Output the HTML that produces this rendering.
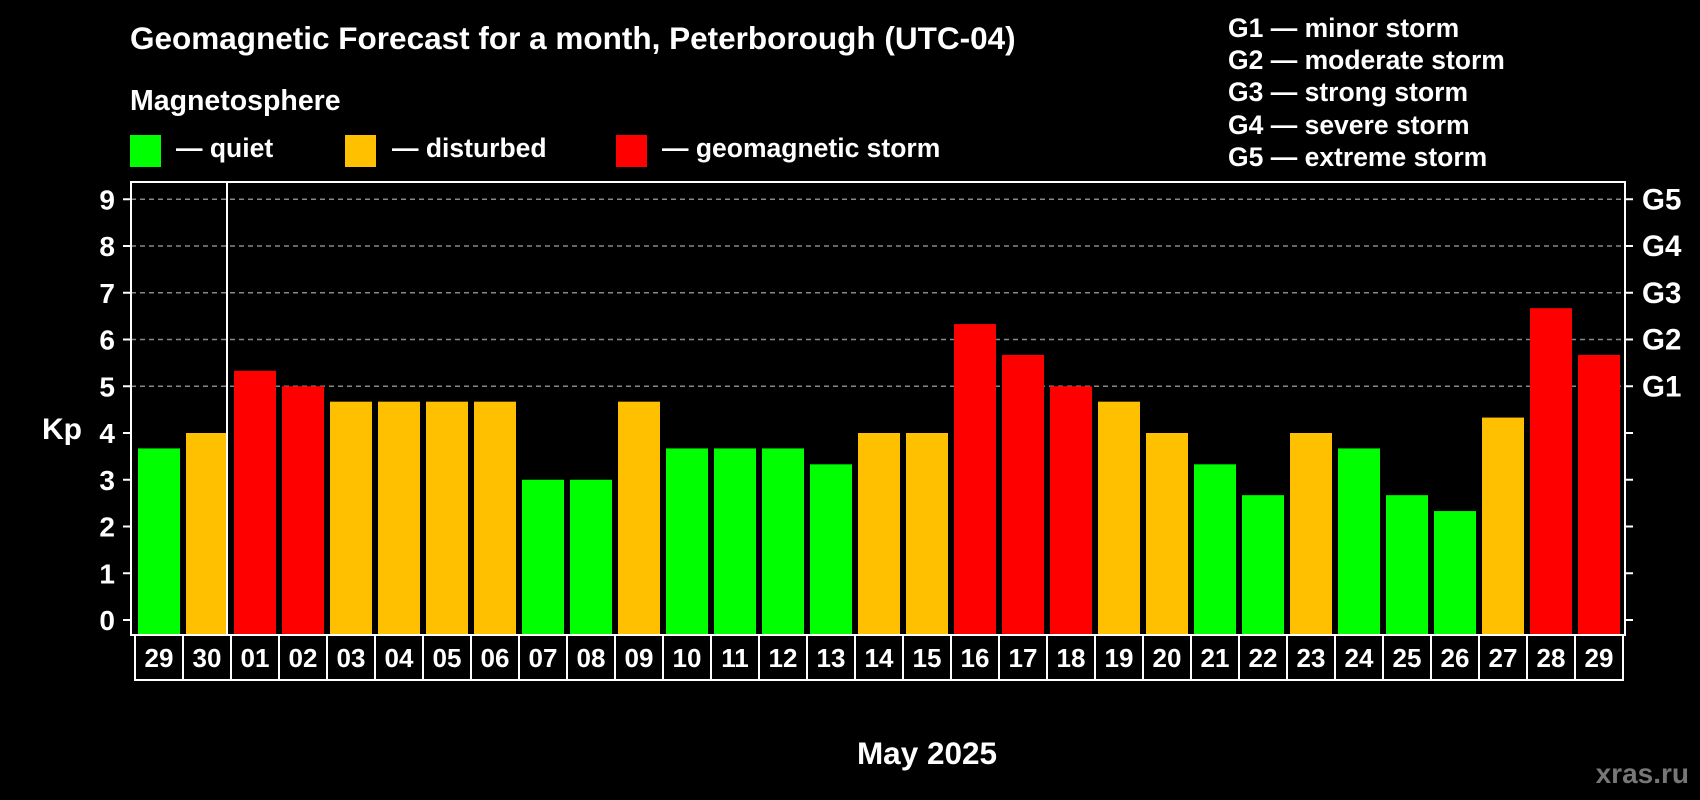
<!DOCTYPE html>
<html><head><meta charset="utf-8"><style>
html,body{margin:0;padding:0;background:#000;}
svg{display:block;}
text{font-family:"Liberation Sans",Arial,sans-serif;font-weight:bold;fill:#fff;}
</style></head><body>
<svg id="chart" width="1700" height="800" viewBox="0 0 1700 800">
<rect x="0" y="0" width="1700" height="800" fill="#000"/>
<text x="130" y="49" font-size="31.5">Geomagnetic Forecast for a month, Peterborough (UTC-04)</text>
<text x="130" y="110" font-size="28.5">Magnetosphere</text>
<g>
<rect x="130" y="135" width="31" height="32" fill="#00ff00"/><text x="176" y="157" font-size="26.5">— quiet</text></g>
<g>
<rect x="345" y="135" width="31" height="32" fill="#ffc000"/><text x="392" y="157" font-size="26.5">— disturbed</text></g>
<g>
<rect x="616" y="135" width="31" height="32" fill="#ff0000"/><text x="662" y="157" font-size="26.5">— geomagnetic storm</text></g>
<g>
<text x="1228" y="37" font-size="26.5">G1 — minor storm</text>
<text x="1228" y="69" font-size="26.5">G2 — moderate storm</text>
<text x="1228" y="101" font-size="26.5">G3 — strong storm</text>
<text x="1228" y="134" font-size="26.5">G4 — severe storm</text>
<text x="1228" y="166" font-size="26.5">G5 — extreme storm</text>
</g>
<text x="42" y="439" font-size="30">Kp</text>
<text x="927" y="764" font-size="31.5" text-anchor="middle">May 2025</text>
<text x="1689" y="783" font-size="28" text-anchor="end" style="fill:#777">xras.ru</text>
<g id="grid"></g><g id="bars"></g><g id="axes"></g>
</svg>
<script>
const days = ["29","30","01","02","03","04","05","06","07","08","09","10","11","12","13","14","15","16","17","18","19","20","21","22","23","24","25","26","27","28","29"];
const kp = [3.67,4,5.33,5,4.67,4.67,4.67,4.67,3,3,4.67,3.67,3.67,3.67,3.33,4,4,6.33,5.67,5,4.67,4,3.33,2.67,4,3.67,2.67,2.33,4.33,6.67,5.67];
const yTicks = [0,1,2,3,4,5,6,7,8,9];
const gLabels = ["G1","G2","G3","G4","G5"];
const gLevels = [5,6,7,8,9];

const NS="http://www.w3.org/2000/svg";
const L=131,R=1625,T=182,B=635, X0=135, slot=48;
const y=v=>620-v*46.75;
const x=i=>X0+i*slot;
function mk(tag,attrs,parent){const e=document.createElementNS(NS,tag);for(const k in attrs)e.setAttribute(k,attrs[k]);parent.appendChild(e);return e;}
const grid=document.getElementById('grid'),bars=document.getElementById('bars'),axes=document.getElementById('axes');
gLevels.forEach((v,i)=>{
  const g=mk('line',{x1:L,x2:R,y1:y(v),y2:y(v),stroke:'#888','stroke-width':1.5,'stroke-dasharray':'5,4'},grid);
  
  
});
kp.forEach((v,i)=>{
  const c=v>=5?'#ff0000':(v>=4?'#ffc000':'#00ff00');
  const r=mk('rect',{x:x(i)+3,y:y(v),width:42,height:B-y(v)-1,fill:c},bars);
  
  
});
const fr=mk('rect',{x:L,y:T,width:R-L,height:B-T,fill:'none',stroke:'#fff','stroke-width':2},axes);


const sep=mk('line',{x1:x(2)-4,x2:x(2)-4,y1:T,y2:B,stroke:'#fff','stroke-width':2},axes);


yTicks.forEach(v=>{
  mk('line',{x1:L-8,x2:L,y1:y(v),y2:y(v),stroke:'#fff','stroke-width':2},axes);
  mk('line',{x1:R,x2:R+8,y1:y(v),y2:y(v),stroke:'#fff','stroke-width':2},axes);
  const t=mk('text',{x:115,y:y(v)+10,'font-size':28,'text-anchor':'end'},axes);
  t.textContent=v;
  
  
});
gLabels.forEach((g,i)=>{
  const t=mk('text',{x:1642,y:y(gLevels[i])+10,'font-size':29.5},axes);
  t.textContent=g;
  
  
});
const dr=mk('rect',{x:X0,y:B,width:days.length*slot,height:45,fill:'none',stroke:'#fff','stroke-width':2},axes);


days.forEach((d,i)=>{
  if(i>0)mk('line',{x1:x(i),x2:x(i),y1:B,y2:B+45,stroke:'#fff','stroke-width':2},axes);
  const t=mk('text',{x:x(i)+slot/2,y:B+32,'font-size':26,'text-anchor':'middle'},axes);
  t.textContent=d;
  
  
});
</script>
</body></html>
